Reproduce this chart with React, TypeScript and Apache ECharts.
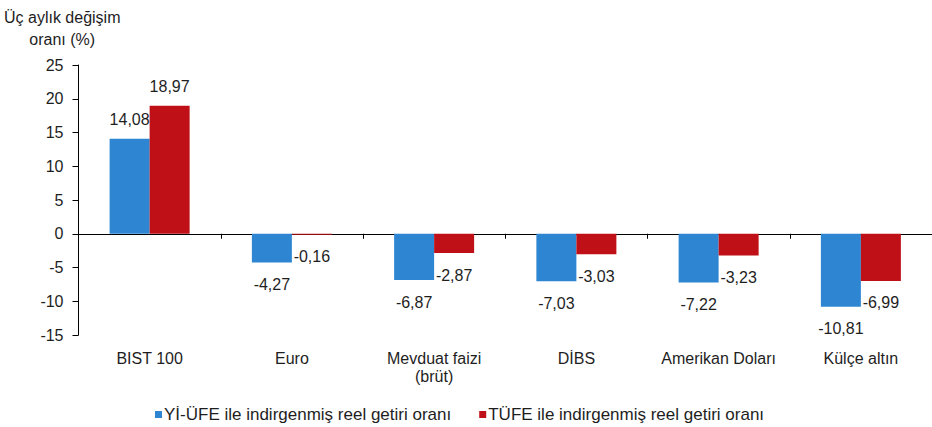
import React, { useEffect, useRef } from "react";
import * as echarts from "echarts";

const categories = ["BIST 100", "Euro", "Mevduat faizi\n(brüt)", "DİBS", "Amerikan Doları", "Külçe altın"];
const yiUfeValues = [14.08, -4.27, -6.87, -7.03, -7.22, -10.81];
const tufeValues = [18.97, -0.16, -2.87, -3.03, -3.23, -6.99];
const seriesNames = ["Yİ-ÜFE ile indirgenmiş reel getiri oranı", "TÜFE ile indirgenmiş reel getiri oranı"];
const yTitle = "Üç aylık değişim\noranı (%)";

const FONT = "'Liberation Sans', Arial, sans-serif";
const TXT = "#1e1e1e";

export default function App() {
  const ref = useRef<HTMLDivElement>(null);
  useEffect(() => {
    const chart = echarts.init(ref.current!, null, { renderer: "svg" });
    const fmt = (p: any) => String(p.value.toFixed(2)).replace(".", ",");
    const label = {
      show: true,
      formatter: fmt,
      fontSize: 16,
      fontFamily: FONT,
      color: TXT,
    };
    const mk = (name: string, data: number[], color: string) => ({
      name,
      type: "bar",
      xAxisIndex: 0,
      barWidth: 40,
      barGap: "0%",
      itemStyle: { color },
      data: data.map((v) => ({
        value: v,
        label: { ...label, position: v >= 0 ? "top" : "bottom", distance: v >= 0 ? 11 : 14 },
      })),
    });
    chart.setOption({
      animation: false,
      backgroundColor: "#ffffff",
      textStyle: { fontFamily: FONT },
      grid: { left: 78.5, top: 65, height: 270, width: 860, containLabel: false },
      legend: {
        left: 150,
        top: 401,
        itemWidth: 7,
        itemHeight: 7,
        itemGap: 28,
        icon: "rect",
        textStyle: { fontSize: 17, fontFamily: FONT, color: TXT, padding: [0, 0, 0, -3] },
        data: seriesNames,
      },
      graphic: [
        {
          type: "text",
          left: 4,
          top: 6,
          style: {
            text: yTitle,
            font: `16px ${FONT}`,
            fill: TXT,
            textAlign: "center",
            lineHeight: 22,
          },
        },
      ],
      xAxis: [
        {
          type: "category",
          data: categories,
          position: "bottom",
          axisLine: { onZero: true, lineStyle: { color: "#000", width: 1 } },
          axisTick: { show: true, length: 5, lineStyle: { color: "#000" } },
          axisLabel: { show: false },
        },
        {
          type: "category",
          data: categories,
          position: "bottom",
          axisLine: { show: false, onZero: false },
          axisTick: { show: false },
          axisLabel: {
            show: true,
            interval: 0,
            margin: 14,
            fontSize: 16,
            fontFamily: FONT,
            color: TXT,
            lineHeight: 18,
            verticalAlign: "top",
          },
        },
      ],
      yAxis: {
        type: "value",
        min: -15,
        max: 25,
        interval: 5,
        splitLine: { show: false },
        axisLine: { show: true, lineStyle: { color: "#000", width: 1 } },
        axisTick: { show: true, length: 6, inside: false, lineStyle: { color: "#000" } },
        axisLabel: { fontSize: 16, fontFamily: FONT, color: TXT, margin: 15 },
      },
      series: [mk(seriesNames[0], yiUfeValues, "#2E86D2"), mk(seriesNames[1], tufeValues, "#BE1016")],
    });
    return () => chart.dispose();
  }, []);
  return <div ref={ref} style={{ position: "fixed", left: 0, top: 0, width: 932, height: 427 }} />;
}
